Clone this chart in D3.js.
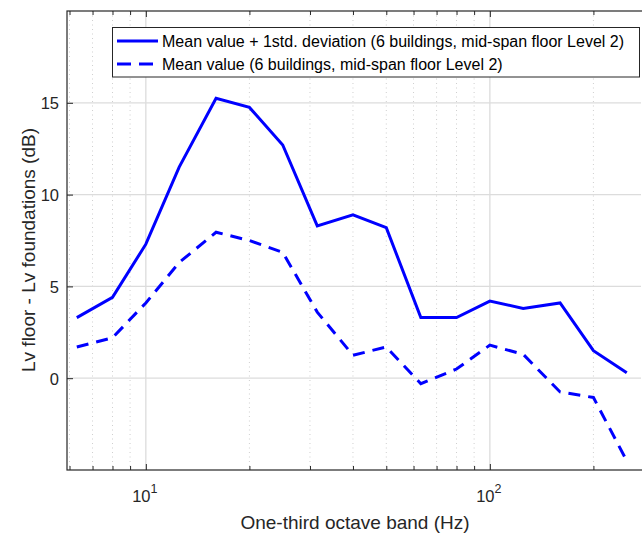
<!DOCTYPE html>
<html><head><meta charset="utf-8">
<script src="https://cdn.jsdelivr.net/npm/d3@7"></script>
<style>body{margin:0;background:#fff}svg{display:block}text{font-family:"Liberation Sans",Arial,sans-serif}</style>
</head><body>
<svg id="c" width="642" height="533"></svg>
<script>
const freqs = [6.3, 8, 10, 12.5, 16, 20, 25, 31.5, 40, 50, 63, 80, 100, 125, 160, 200, 250];
const meanPlusStd = [3.3, 4.4, 7.3, 11.5, 15.25, 14.75, 12.7, 8.3, 8.9, 8.2, 3.3, 3.3, 4.2, 3.8, 4.1, 1.5, 0.3];
const meanVal = [1.7, 2.2, 4.1, 6.3, 7.95, 7.5, 6.85, 3.6, 1.25, 1.7, -0.3, 0.5, 1.8, 1.3, -0.75, -1.05, -4.5];
const yTicks = [0, 5, 10, 15];
const xMajor = [10, 100];
const xMinor = [6, 7, 8, 9, 20, 30, 40, 50, 60, 70, 80, 90, 200];
const legendLabels = ["Mean value + 1std. deviation (6 buildings, mid-span floor Level 2)", "Mean value (6 buildings, mid-span floor Level 2)"];

const svg = d3.select("#c");
const L = 67, R = 641, T = 11, B = 470;
const x = d3.scaleLog().domain([5.9, 275]).range([L, R]);
const y = d3.scaleLinear().domain([-5, 20]).range([B, T]);
const axCol = "#262626";
const dash = "12,8";

// grid
const g = svg.append("g");
g.selectAll(".mn").data(xMinor).enter().append("line")
  .attr("x1", d => x(d)).attr("x2", d => x(d)).attr("y1", T).attr("y2", B)
  .attr("stroke", "#cfcfcf").attr("stroke-width", 1).attr("stroke-dasharray", "1,3.5");
g.selectAll(".mj").data(xMajor).enter().append("line")
  .attr("x1", d => x(d)).attr("x2", d => x(d)).attr("y1", T).attr("y2", B)
  .attr("stroke", "#dcdcdc").attr("stroke-width", 1.3);
g.selectAll(".yg").data(yTicks).enter().append("line")
  .attr("x1", L).attr("x2", R).attr("y1", d => y(d)).attr("y2", d => y(d))
  .attr("stroke", "#dcdcdc").attr("stroke-width", 1.3);

// box
svg.append("rect").attr("x", L).attr("y", T).attr("width", R - L + 5).attr("height", B - T)
  .attr("fill", "none").attr("stroke", axCol).attr("stroke-width", 1.2);

// ticks inside, bottom and top
[B, T].forEach((yy, i) => {
  const mk = i === 0 ? d3.axisBottom : d3.axisTop;
  const a = svg.append("g").attr("transform", `translate(0,${yy})`)
    .call(mk(x).tickValues(xMajor).tickSize(-6).tickFormat(""));
  const b = svg.append("g").attr("transform", `translate(0,${yy})`)
    .call(mk(x).tickValues(xMinor).tickSize(-4).tickFormat(""));
  [a, b].forEach(s => { s.select(".domain").remove(); s.selectAll("line").attr("stroke", axCol); });
});
const ya = svg.append("g").attr("transform", `translate(${L},0)`)
  .call(d3.axisLeft(y).tickValues(yTicks).tickSize(-6).tickPadding(8).tickFormat(d3.format("d")));
ya.select(".domain").remove();
ya.selectAll("line").attr("stroke", axCol);
ya.selectAll("text").attr("fill", axCol).attr("dy", "0.36em").style("font-size", "16.5px").style("font-family", '"Liberation Sans",Arial,sans-serif');

// x tick labels 10^n
xMajor.forEach(v => {
  const t = svg.append("text").attr("x", x(v) - 1).attr("y", 502).attr("text-anchor", "middle")
    .attr("fill", axCol).style("font-size", "16.5px");
  t.append("tspan").text("10");
  t.append("tspan").attr("dy", -9).style("font-size", "12.5px").text(String(Math.round(Math.log10(v))));
});

// axis titles
svg.append("text").attr("x", 355).attr("y", 529).attr("text-anchor", "middle")
  .attr("fill", axCol).style("font-size", "19px").text("One-third octave band (Hz)");
svg.append("text").attr("transform", `translate(35,250) rotate(-90)`).attr("text-anchor", "middle")
  .attr("fill", axCol).style("font-size", "19px").text("Lv floor - Lv foundations (dB)");

// lines
const line = d3.line().x((d, i) => x(freqs[i])).y(d => y(d));
svg.append("path").datum(meanPlusStd).attr("d", line).attr("fill", "none")
  .attr("stroke", "#0000ff").attr("stroke-width", 3).attr("stroke-linejoin", "miter");
svg.append("path").datum(meanVal).attr("d", line).attr("fill", "none")
  .attr("stroke", "#0000ff").attr("stroke-width", 3).attr("stroke-dasharray", dash);

// legend
const lg = svg.append("g");
lg.append("rect").attr("x", 112.5).attr("y", 27.5).attr("width", 527).attr("height", 49.5)
  .attr("fill", "#fff").attr("stroke", axCol).attr("stroke-width", 1);
legendLabels.forEach((lab, i) => {
  const yy = 41 + i * 23;
  lg.append("line").attr("x1", 117).attr("x2", 158).attr("y1", yy).attr("y2", yy)
    .attr("stroke", "#0000ff").attr("stroke-width", 3).attr("stroke-dasharray", i ? "14,8" : null);
  lg.append("text").attr("x", 162).attr("y", yy + 6).attr("fill", "#000").style("font-size", "16px").text(lab);
});
</script>
</body></html>
